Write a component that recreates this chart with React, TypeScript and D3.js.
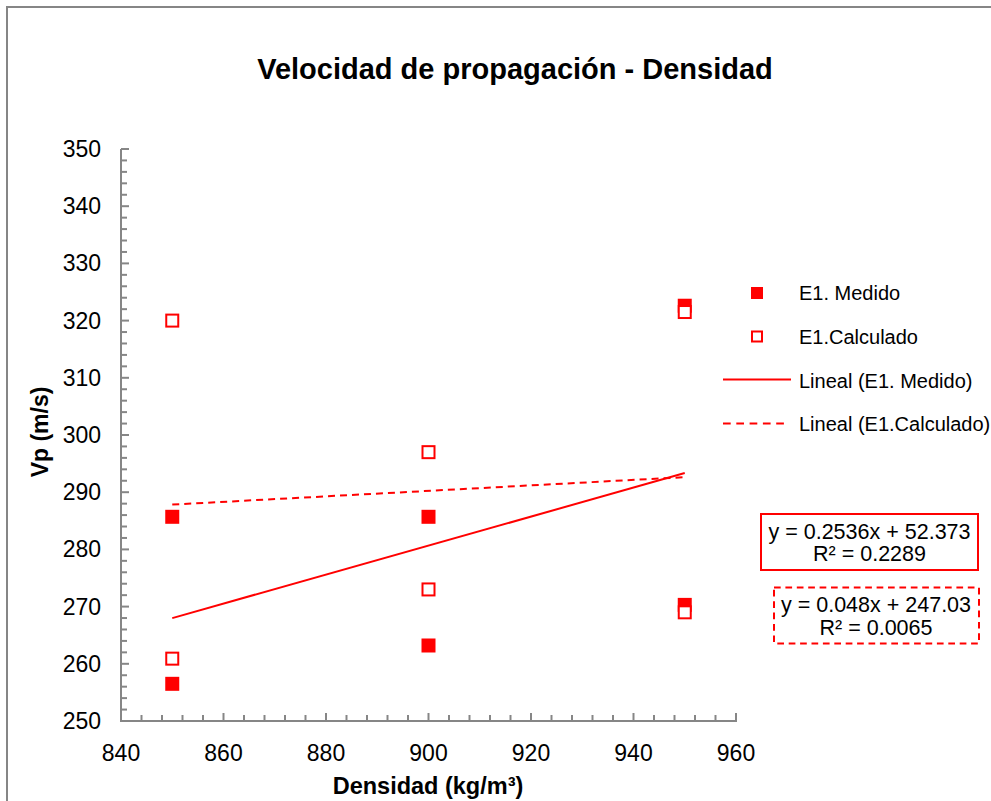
import React from "react";
import * as d3 from "d3";

const title = "Velocidad de propagación - Densidad";
const xTitle = "Densidad (kg/m³)";
const yTitle = "Vp (m/s)";

const medidoX = [850, 850, 900, 900, 950, 950];
const medidoY = [285.7, 256.5, 285.7, 263.2, 322.6, 270.3];
const calcX = [850, 850, 900, 900, 950, 950];
const calcY = [320.0, 260.9, 297.0, 273.0, 321.5, 269.0];

const xTicks = [840, 860, 880, 900, 920, 940, 960];
const yTicks = [250, 260, 270, 280, 290, 300, 310, 320, 330, 340, 350];

const legendLabels = ["E1. Medido", "E1.Calculado", "Lineal (E1. Medido)", "Lineal (E1.Calculado)"];
const eqMedido = ["y = 0.2536x + 52.373", "R² = 0.2289"];
const eqCalc = ["y = 0.048x + 247.03", "R² = 0.0065"];

const RED = "#ff0000";
const AXIS = "#868686";
const FONT = "'Liberation Sans', Arial, sans-serif";

function linreg(xs: number[], ys: number[]) {
  const mx = d3.mean(xs)!;
  const my = d3.mean(ys)!;
  let sxy = 0, sxx = 0;
  xs.forEach((x, i) => { sxy += (x - mx) * (ys[i] - my); sxx += (x - mx) * (x - mx); });
  const b = sxy / sxx;
  return { b, a: my - b * mx };
}

export default function App() {
  const x = d3.scaleLinear().domain([840, 960]).range([121, 736]);
  const y = d3.scaleLinear().domain([250, 350]).range([721, 149]);

  const xMinor = d3.range(840, 960.01, 4);
  const yMinor = d3.range(250, 350.01, 2);

  const rM = linreg(medidoX, medidoY);
  const rC = linreg(calcX, calcY);
  const xExt = d3.extent(medidoX) as [number, number];
  const lineGen = d3.line<[number, number]>().x((d) => x(d[0])).y((d) => y(d[1]));

  const mPath = lineGen(xExt.map((v) => [v, rM.a + rM.b * v] as [number, number]))!;
  const cPath = lineGen(xExt.map((v) => [v, rC.a + rC.b * v] as [number, number]))!;

  const S = 14;

  return (
    <svg
      width={991}
      height={801}
      style={{ position: "fixed", left: 0, top: 0, background: "#fff" }}
      fontFamily={FONT}
    >
      <rect x={0} y={0} width={991} height={801} fill="#fff" />
      <rect x={7} y={7} width={1100} height={1100} fill="none" stroke={AXIS} strokeWidth={2} />

      <text x={515} y={79} textAnchor="middle" fontSize={29} fontWeight="bold" fill="#000">
        {title}
      </text>

      {/* axes */}
      <line x1={121} x2={121} y1={149} y2={722} stroke={AXIS} strokeWidth={2} />
      <line x1={120} x2={737} y1={721} y2={721} stroke={AXIS} strokeWidth={2} />
      {yMinor.map((v) => (
        <line key={"ym" + v} x1={121} x2={121 + (v % 10 === 0 ? 8 : 6)} y1={y(v)} y2={y(v)} stroke={AXIS} strokeWidth={2} />
      ))}
      {xMinor.map((v) => (
        <line key={"xm" + v} x1={x(v)} x2={x(v)} y1={721} y2={721 - (v % 20 === 0 ? 8 : 6)} stroke={AXIS} strokeWidth={2} />
      ))}
      {yTicks.map((v) => (
        <text key={"yt" + v} x={101} y={y(v)} dy="0.35em" textAnchor="end" fontSize={23} fill="#000">
          {v}
        </text>
      ))}
      {xTicks.map((v) => (
        <text key={"xt" + v} x={x(v)} y={761} textAnchor="middle" fontSize={23} fill="#000">
          {v}
        </text>
      ))}
      <text x={428} y={794} textAnchor="middle" fontSize={23.5} fontWeight="bold" fill="#000">
        {xTitle}
      </text>
      <text transform="translate(40,432) rotate(-90)" dy="0.35em" textAnchor="middle" fontSize={23} fontWeight="bold" fill="#000">
        {yTitle}
      </text>

      {/* trend lines */}
      <path d={mPath} stroke={RED} strokeWidth={2} fill="none" />
      <path d={cPath} stroke={RED} strokeWidth={2} fill="none" strokeDasharray="7,5" />

      {/* points */}
      {medidoX.map((v, i) => (
        <rect key={"m" + i} x={x(v) - S / 2} y={y(medidoY[i]) - S / 2} width={S} height={S} fill={RED} />
      ))}
      {calcX.map((v, i) => (
        <rect key={"c" + i} x={x(v) - (S - 2) / 2} y={y(calcY[i]) - (S - 2) / 2} width={S - 2} height={S - 2} fill="#fff" stroke={RED} strokeWidth={2} />
      ))}

      {/* legend */}
      <rect x={757 - 6} y={293 - 6} width={12} height={12} fill={RED} />
      <rect x={757 - 5} y={336.5 - 5} width={10} height={10} fill="#fff" stroke={RED} strokeWidth={2} />
      <line x1={723} x2={791} y1={379.5} y2={379.5} stroke={RED} strokeWidth={2} />
      <line x1={723} x2={784} y1={423.5} y2={423.5} stroke={RED} strokeWidth={2} strokeDasharray="7.7,5.6" />
      {legendLabels.map((t, i) => (
        <text key={"lg" + i} x={799} y={[293, 336.5, 380.5, 424][i]} dy="0.35em" fontSize={20} fill="#000">
          {t}
        </text>
      ))}

      {/* equation boxes */}
      <rect x={761} y={514} width={217} height={56} fill="#fff" stroke={RED} strokeWidth={2} />
      {eqMedido.map((t, i) => (
        <text key={"em" + i} x={869.5} y={[531, 553][i]} dy="0.35em" textAnchor="middle" fontSize={21.5} fill="#000">
          {t}
        </text>
      ))}
      <rect x={774} y={587.5} width={205} height={56} fill="#fff" stroke={RED} strokeWidth={2} strokeDasharray="6.7,4.7" />
      {eqCalc.map((t, i) => (
        <text key={"ec" + i} x={876} y={[604.5, 627][i]} dy="0.35em" textAnchor="middle" fontSize={21.5} fill="#000">
          {t}
        </text>
      ))}
    </svg>
  );
}
